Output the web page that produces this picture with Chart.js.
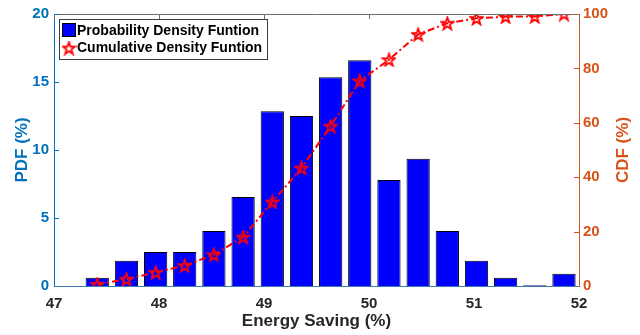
<!DOCTYPE html>
<html>
<head>
<meta charset="utf-8">
<script src="https://cdn.jsdelivr.net/npm/chart.js@4.4.1/dist/chart.umd.min.js"></script>
<style>
  html, body { margin: 0; padding: 0; background: #fff; }
</style>
</head>
<body>
<canvas id="chart" width="640" height="335"></canvas>
<script>
// bin centres of the histogram (Energy Saving %)
const binCenters = [47.412, 47.690, 47.968, 48.245, 48.523, 48.801, 49.079, 49.357, 49.635,
                    49.912, 50.190, 50.468, 50.746, 51.024, 51.301, 51.579, 51.857];
// PDF (%) per bin
const pdfValues = [0.6, 1.85, 2.5, 2.5, 4.05, 6.55, 12.85, 12.5, 15.35, 16.6, 7.8, 9.35, 4.05, 1.85, 0.6, 0.05, 0.9];
// CDF (%)
const cdfValues = [0.6, 2.5, 5.0, 7.5, 11.5, 18.0, 30.9, 43.4, 58.8, 75.4, 83.2, 92.5, 96.6, 98.4, 99.0, 99.1, 100];
const xTicks = [47, 48, 49, 50, 51, 52];
const pdfTicks = [0, 5, 10, 15, 20];
const cdfTicks = [0, 20, 40, 60, 80, 100];

const BLUE_AX = 'rgb(0,114,189)';
const ORANGE_AX = 'rgb(217,83,25)';
const DARK = 'rgb(38,38,38)';
const FONT = '"Liberation Sans", Arial, Helvetica, sans-serif';

// hollow pentagram marker like MATLAB 'p'
function makeStar(size, color) {
  const c = document.createElement('canvas');
  c.width = size; c.height = size;
  const ctx = c.getContext('2d');
  const cx = size / 2, cy = size / 2 + 0.6;
  const ro = size / 2 - 1, ri = ro * 0.4;
  ctx.beginPath();
  for (let i = 0; i < 10; i++) {
    const r = i % 2 === 0 ? ro : ri;
    const a = -Math.PI / 2 + i * Math.PI / 5;
    const px = cx + r * Math.cos(a), py = cy + r * Math.sin(a);
    if (i === 0) ctx.moveTo(px, py); else ctx.lineTo(px, py);
  }
  ctx.closePath();
  ctx.strokeStyle = color;
  ctx.lineWidth = 1.8;
  ctx.lineJoin = 'miter';
  ctx.stroke();
  return c;
}

const starImg = makeStar(15, 'red');

function fixTicks(values) {
  return function (scale) { scale.ticks = values.map(v => ({ value: v })); };
}

// MATLAB style box with inward ticks, legend box and right-hand label
const boxPlugin = {
  id: 'boxPlugin',
  afterDatasetsDraw(chart) {
    const { ctx, chartArea: a, scales } = chart;
    const len = 5;
    ctx.save();
    ctx.lineWidth = 1;
    // top line and its ticks
    ctx.strokeStyle = 'rgb(110,110,110)';
    ctx.beginPath();
    ctx.moveTo(a.left, a.top + 0.5);
    ctx.lineTo(a.right, a.top + 0.5);
    xTicks.forEach(v => {
      const px = Math.round(scales.x.getPixelForValue(v)) + 0.5;
      ctx.moveTo(px, a.top);
      ctx.lineTo(px, a.top + len);
    });
    ctx.stroke();
    // left ticks
    ctx.strokeStyle = BLUE_AX;
    ctx.beginPath();
    pdfTicks.forEach(v => {
      const py = Math.round(scales.y.getPixelForValue(v)) + 0.5;
      ctx.moveTo(a.left, py);
      ctx.lineTo(a.left + len, py);
    });
    ctx.stroke();
    // right ticks
    ctx.strokeStyle = ORANGE_AX;
    ctx.beginPath();
    cdfTicks.forEach(v => {
      const py = Math.round(scales.y1.getPixelForValue(v)) + 0.5;
      ctx.moveTo(a.right, py);
      ctx.lineTo(a.right - len, py);
    });
    ctx.stroke();
    // bottom axis line on top of bars
    ctx.strokeStyle = 'rgb(60,125,180)';
    ctx.beginPath();
    ctx.moveTo(a.left, a.bottom + 0.5);
    ctx.lineTo(a.right, a.bottom + 0.5);
    ctx.stroke();
    ctx.restore();
  },
  afterDraw(chart) {
    const { ctx, chartArea: a } = chart;
    const ds = chart.data.datasets;
    ctx.save();
    // right axis title, reading bottom to top like the left one
    ctx.fillStyle = ORANGE_AX;
    ctx.font = 'bold 17px ' + FONT;
    ctx.textAlign = 'center';
    ctx.textBaseline = 'middle';
    ctx.translate(623, (a.top + a.bottom) / 2);
    ctx.rotate(-Math.PI / 2);
    ctx.fillText('CDF (%)', 0, 0);
    ctx.restore();

    // legend in the top-left corner of the axes
    ctx.save();
    ctx.font = 'bold 14px ' + FONT;
    const bx = a.left + 5, by = a.top + 5;
    const textX = bx + 18;
    const w = Math.max(...ds.map(d => ctx.measureText(d.label).width));
    const bw = Math.round(textX - bx + w + 5), bh = 40;
    ctx.fillStyle = '#fff';
    ctx.fillRect(bx, by, bw, bh);
    ctx.strokeStyle = 'rgb(60,60,60)';
    ctx.lineWidth = 1;
    ctx.strokeRect(bx + 0.5, by + 0.5, bw, bh);
    // row 1: bar swatch
    ctx.fillStyle = 'rgb(0,0,255)';
    ctx.fillRect(bx + 3, by + 4, 14, 14);
    ctx.strokeStyle = '#000';
    ctx.strokeRect(bx + 3.5, by + 4.5, 13, 13);
    // row 2: star
    ctx.drawImage(starImg, bx + 2.5, by + 21.5);
    ctx.fillStyle = '#000';
    ctx.textBaseline = 'middle';
    ctx.textAlign = 'left';
    ctx.fillText(ds[0].label, textX, by + 12);
    ctx.fillText(ds[1].label, textX, by + 29.5);
    ctx.restore();
  }
};

new Chart('chart', {
  type: 'bar',
  data: {
    datasets: [{
      type: 'bar',
      label: 'Probability Density Funtion',
      data: binCenters.map((x, i) => ({ x: x, y: pdfValues[i] })),
      backgroundColor: 'rgb(0,0,255)',
      borderColor: '#000',
      borderWidth: 1,
      barPercentage: 0.8,
      categoryPercentage: 1.0,
      yAxisID: 'y',
      order: 2
    }, {
      type: 'line',
      label: 'Cumulative Density Funtion',
      data: binCenters.map((x, i) => ({ x: x, y: cdfValues[i] })),
      borderColor: 'red',
      borderWidth: 2,
      borderDash: [7, 3, 2, 3],
      pointStyle: starImg,
      pointRadius: 7,
      tension: 0,
      fill: false,
      yAxisID: 'y1',
      order: 1
    }]
  },
  options: {
    responsive: false,
    animation: false,
    layout: { padding: { top: 12, left: 0, right: 0, bottom: 0 } },
    plugins: {
      tooltip: { enabled: false },
      legend: { display: false }
    },
    scales: {
      x: {
        type: 'linear',
        min: 47,
        max: 52,
        offset: false,
        afterBuildTicks: fixTicks(xTicks),
        afterFit(scale) { scale.height = 49; },
        grid: { display: false, drawTicks: false, offset: false },
        border: { display: false },
        ticks: {
          color: DARK,
          padding: 9,
          font: { family: FONT, size: 15, weight: 'bold' }
        },
        title: {
          display: true,
          text: 'Energy Saving (%)',
          color: DARK,
          padding: { top: 2, bottom: 3 },
          font: { family: FONT, size: 17, weight: 'bold' }
        }
      },
      y: {
        position: 'left',
        min: 0,
        max: 20,
        afterBuildTicks: fixTicks(pdfTicks),
        afterFit(scale) { scale.width = 54; },
        grid: { display: false, drawTicks: false },
        border: { display: true, color: BLUE_AX, width: 1 },
        ticks: {
          color: BLUE_AX,
          padding: 5,
          font: { family: FONT, size: 15, weight: 'bold' }
        },
        title: {
          display: true,
          text: 'PDF (%)',
          color: BLUE_AX,
          padding: { top: 12, bottom: 0 },
          font: { family: FONT, size: 17, weight: 'bold' }
        }
      },
      y1: {
        position: 'right',
        min: 0,
        max: 100,
        afterBuildTicks: fixTicks(cdfTicks),
        afterFit(scale) { scale.width = 61; },
        grid: { display: false, drawTicks: false },
        border: { display: true, color: ORANGE_AX, width: 1 },
        ticks: {
          color: ORANGE_AX,
          padding: 4,
          font: { family: FONT, size: 15, weight: 'bold' }
        },
        title: { display: false }
      }
    }
  },
  plugins: [boxPlugin]
});
</script>
</body>
</html>
